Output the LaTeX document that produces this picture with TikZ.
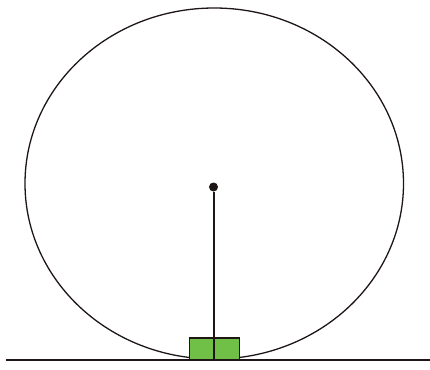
\documentclass[tikz,border=0pt]{standalone}
\definecolor{boxgreen}{RGB}{112,192,72}
\definecolor{inkc}{RGB}{30,22,22}
\begin{document}
\begin{tikzpicture}[x=1pt,y=-1pt,
  outline/.style={draw=inkc,line width=1.3pt},
  dotstyle/.style={circle,fill=inkc,inner sep=0pt,minimum size=9pt},
  cart/.style={draw=inkc,fill=boxgreen,line width=1.5pt,minimum width=50pt,minimum height=21.5pt,inner sep=0pt}]
\useasboundingbox (0,0) rectangle (430,369);
\draw[outline] (214.25,183.5) ellipse [x radius=189.25, y radius=175.5];
\node[cart] (box) at (214.5,348.5) {};
\node[dotstyle] (c) at (213.5,187) {};
\coordinate (g) at (213.5,359.8);
\draw[inkc,line width=2pt] (c) -- (g);
\coordinate (gl) at (6,360);
\coordinate (gr) at (430,360);
\draw[inkc,line width=1.7pt] (gl) -- (gr);
\end{tikzpicture}
\end{document}
